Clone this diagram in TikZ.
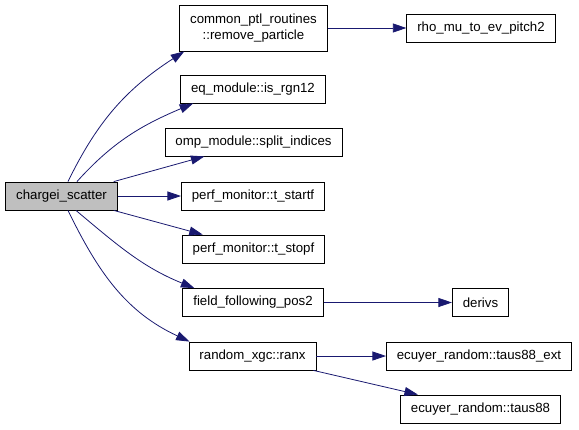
\documentclass[tikz,border=0pt]{standalone}
\usepackage{fontspec}
\setmainfont{Liberation Sans}
\usetikzlibrary{arrows.meta}
\definecolor{edgeblue}{RGB}{25,25,112}
\tikzset{
  fn/.style={draw=black,line width=0.8bp,inner xsep=10.5bp,inner ysep=0bp,minimum height=28bp,
    font=\fontsize{13.3}{16.5}\selectfont,align=center},
  call/.style={->,draw=edgeblue,line width=0.8bp}
}
\begin{document}
\begin{tikzpicture}[>={Triangle[length=13.5bp,width=9bp]},x=1bp,y=1bp]
            \useasboundingbox (0,0) rectangle (579,-429);
            \node[fn,fill=black!25] (cs) at (61.5,-196) {chargei\_scatter};
            \node[fn,minimum height=46bp] (cpr) at (253.5,-28) {common\_ptl\_routines\\::remove\_particle};
            \node[fn] (eq) at (253,-89) {eq\_module::is\_rgn12};
            \node[fn] (omp) at (253.5,-142) {omp\_module::split\_indices};
            \node[fn] (tstart) at (253,-196) {perf\_monitor::t\_startf};
            \node[fn] (tstop) at (253.5,-249) {perf\_monitor::t\_stopf};
            \node[fn] (ffp) at (253,-302.5) {field\_following\_pos2};
            \node[fn] (ranx) at (252.5,-356) {random\_xgc::ranx};
            \node[fn] (rho) at (481,-28) {rho\_mu\_to\_ev\_pitch2};
            \node[fn] (derivs) at (480.5,-302.5) {derivs};
            \node[fn] (t88ext) at (479,-356) {ecuyer\_random::taus88\_ext};
            \node[fn] (t88) at (480.5,-409) {ecuyer\_random::taus88};
            \draw[call] ([xshift=6.5]cs.north) to[out=64,in=213] ([xshift=5]cpr.south west);
            \draw[call] ([xshift=15.5]cs.north) to[out=48,in=203] ([xshift=13]eq.south west);
            \draw[call] ([xshift=-4]cs.north east) -- ([xshift=40]omp.south west);
            \draw[call] (cs.east) -- (tstart.west);
            \draw[call] ([xshift=-4]cs.south east) -- ([xshift=21]tstop.north west);
            \draw[call] ([xshift=14.5]cs.south) to[out=-40,in=158] ([xshift=12]ffp.north west);
            \draw[call] ([xshift=6.5]cs.south) to[out=-64,in=155] ([xshift=1]ranx.north west);
            \draw[call] (cpr.east) -- (rho.west);
            \draw[call] (ffp.east) -- (derivs.west);
            \draw[call] (ranx.east) -- (t88ext.west);
            \draw[call] ([xshift=-3]ranx.south east) -- ([xshift=18]t88.north west);
        \end{tikzpicture}
\end{document}
